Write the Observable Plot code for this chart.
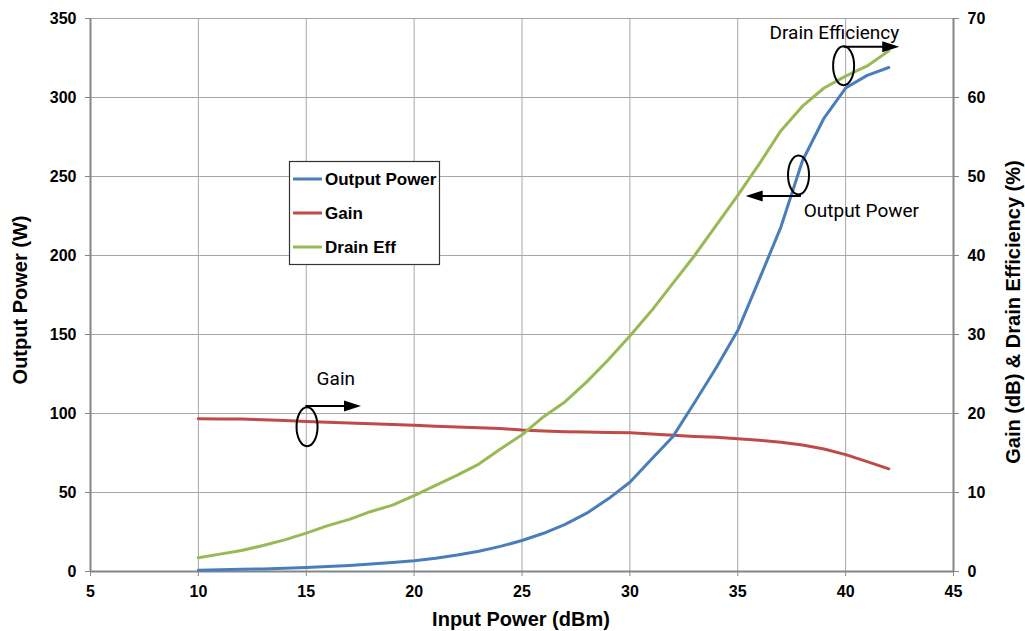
<!DOCTYPE html>
<html><head><meta charset="utf-8">
<script src="https://cdn.jsdelivr.net/npm/d3@7"></script>
<script src="https://cdn.jsdelivr.net/npm/@observablehq/plot@0.6"></script>
<style>body{margin:0;background:#fff} svg{display:block}</style>
</head><body><div id="chart"></div>
<script>
// ---- data ----
const inputPower = [10,11,12,13,14,15,16,17,18,19,20,21,22,23,24,25,26,27,28,29,30,31,32,33,34,35,36,37,38,39,40,41,42];
const outputPowerW = [0.86,1.07,1.35,1.64,2.04,2.5,3.1,3.8,4.7,5.7,6.8,8.4,10.4,12.8,15.9,19.6,24.2,29.8,36.9,46.0,56.5,71.0,85.5,107,129,152.5,185,218,260,287,306,314,319];
const gainDb = [19.35,19.3,19.3,19.2,19.1,19.0,18.9,18.8,18.7,18.6,18.5,18.4,18.3,18.2,18.1,17.9,17.8,17.7,17.65,17.6,17.55,17.4,17.25,17.1,17.0,16.8,16.6,16.35,16.0,15.5,14.8,13.9,13.0];
const drainEff = [1.75,2.2,2.65,3.3,4.0,4.85,5.8,6.6,7.6,8.4,9.6,10.9,12.2,13.6,15.5,17.3,19.6,21.5,24.0,26.8,29.8,33.0,36.5,40.0,43.8,47.6,51.6,55.8,58.9,61.2,62.7,64.0,65.9];
const seriesNames = ["Output Power","Gain","Drain Eff"];
const seriesColors = ["#4a7ebb","#be4b48","#98b954"];
const xTicks = [5,10,15,20,25,30,35,40,45];
const leftTicks = [0,50,100,150,200,250,300,350];
const rightTicks = [0,10,20,30,40,50,60,70];
const xLabel = "Input Power (dBm)";
const yLeftLabel = "Output Power (W)";
const yRightLabel = "Gain (dB) & Drain Efficiency (%)";
const annoTexts = [
  {label:"Drain Efficiency", x:39.48, y:341},
  {label:"Output Power", x:40.73, y:228},
  {label:"Gain", x:16.37, y:122}
];
const annoEllipses = [{x:39.93, y:319.8},{x:37.84, y:250.6},{x:15.06, y:91.3}];
const annoArrows = [
  {x1:39.93, y1:331.8, x2:42.51, y2:331.8},
  {x1:37.95, y1:237.3, x2:35.39, y2:237.3},
  {x1:14.98, y1:104.4, x2:17.56, y2:104.4}
];

// right axis mapped onto left scale
const k = 350 / 70;
const rows = [];
inputPower.forEach((p,i) => {
  rows.push({s:"Gain", x:p, y:gainDb[i]*k});
  rows.push({s:"Drain Eff", x:p, y:drainEff[i]*k});
  rows.push({s:"Output Power", x:p, y:outputPowerW[i]});
});

const W = 1025, H = 631;
const plot = Plot.plot({
  width: W, height: H,
  marginLeft: 90, marginRight: 72, marginTop: 18, marginBottom: 60,
  style: {fontFamily: "'Liberation Sans', Arial, sans-serif", fontSize: "16px", fontWeight: "bold", color: "#000", background: "#fff"},
  x: {domain: [5,45], label: null},
  y: {domain: [0,350], label: null},
  color: {domain: seriesNames, range: seriesColors},
  marks: [
    Plot.gridX(xTicks, {stroke: "#a6a6a6", strokeOpacity: 1, strokeWidth: 1}),
    Plot.gridY(leftTicks, {stroke: "#a6a6a6", strokeOpacity: 1, strokeWidth: 1}),
    Plot.ruleX([5,45], {stroke: "#868686", strokeWidth: 2}),
    Plot.ruleY([0], {stroke: "#868686", strokeWidth: 2}),
    Plot.axisX(xTicks, {anchor: "bottom", tickSize: 5, tickPadding: 9, stroke: "#868686", fill: "#000", label: null}),
    Plot.axisY(leftTicks, {anchor: "left", tickSize: 5, tickPadding: 9, stroke: "#868686", fill: "#000", label: null}),
    Plot.axisY(rightTicks.map(v => v*k), {anchor: "right", tickSize: 5, tickPadding: 9, stroke: "#868686", fill: "#000", tickFormat: d => d / k, label: null}),
    Plot.line(rows, {x: "x", y: "y", z: "s", stroke: "s", strokeWidth: 3}),
    Plot.text(annoTexts, {x: "x", y: "y", text: "label", fontFamily: "Roboto, sans-serif", fontWeight: "normal", fontSize: 19, fill: "#000"})
  ]
});
document.getElementById("chart").appendChild(plot);

const sx = plot.scale("x"), sy = plot.scale("y");
const svg = d3.select(plot);
const titleFont = "bold 20px 'Liberation Sans', Arial, sans-serif";

// axis titles
svg.append("text").attr("x", 521).attr("y", 626).attr("text-anchor", "middle")
  .style("font", titleFont).text(xLabel);
svg.append("text").attr("transform", "translate(27,300) rotate(-90)").attr("text-anchor", "middle")
  .style("font", titleFont).text(yLeftLabel);
svg.append("text").attr("transform", "translate(1020,312) rotate(-90)").attr("text-anchor", "middle")
  .style("font", titleFont).text(yRightLabel);

// annotations: ellipses and arrows
const ag = svg.append("g");
annoEllipses.forEach(e => {
  ag.append("ellipse").attr("cx", sx.apply(e.x)).attr("cy", sy.apply(e.y))
    .attr("rx", 10.5).attr("ry", 19.5).attr("fill", "none").attr("stroke", "#000").attr("stroke-width", 2);
});
annoArrows.forEach(a => {
  const x1 = sx.apply(a.x1), y1 = sy.apply(a.y1), x2 = sx.apply(a.x2), y2 = sy.apply(a.y2);
  const dir = Math.sign(x2 - x1);
  const hl = 17, hw = 5.5;
  ag.append("line").attr("x1", x1).attr("y1", y1).attr("x2", x2 - dir*hl + dir*2).attr("y2", y2)
    .attr("stroke", "#000").attr("stroke-width", 2);
  ag.append("path").attr("d", `M${x2},${y2}L${x2 - dir*hl},${y2 - hw}L${x2 - dir*hl},${y2 + hw}Z`).attr("fill", "#000");
});

// legend
const lg = svg.append("g");
lg.append("rect").attr("x", 289.5).attr("y", 161.5).attr("width", 150).attr("height", 103)
  .attr("fill", "#fff").attr("stroke", "#333").attr("stroke-width", 1.2);
const rowY = [179, 213, 247];
seriesNames.forEach((n, i) => {
  lg.append("line").attr("x1", 293).attr("x2", 322).attr("y1", rowY[i]).attr("y2", rowY[i])
    .attr("stroke", seriesColors[i]).attr("stroke-width", 3);
  lg.append("text").attr("x", 325).attr("y", rowY[i]).attr("dy", "0.36em").attr("text-anchor", "start")
    .style("font", "bold 17px 'Liberation Sans', Arial, sans-serif").text(n);
});
</script>
</body></html>
